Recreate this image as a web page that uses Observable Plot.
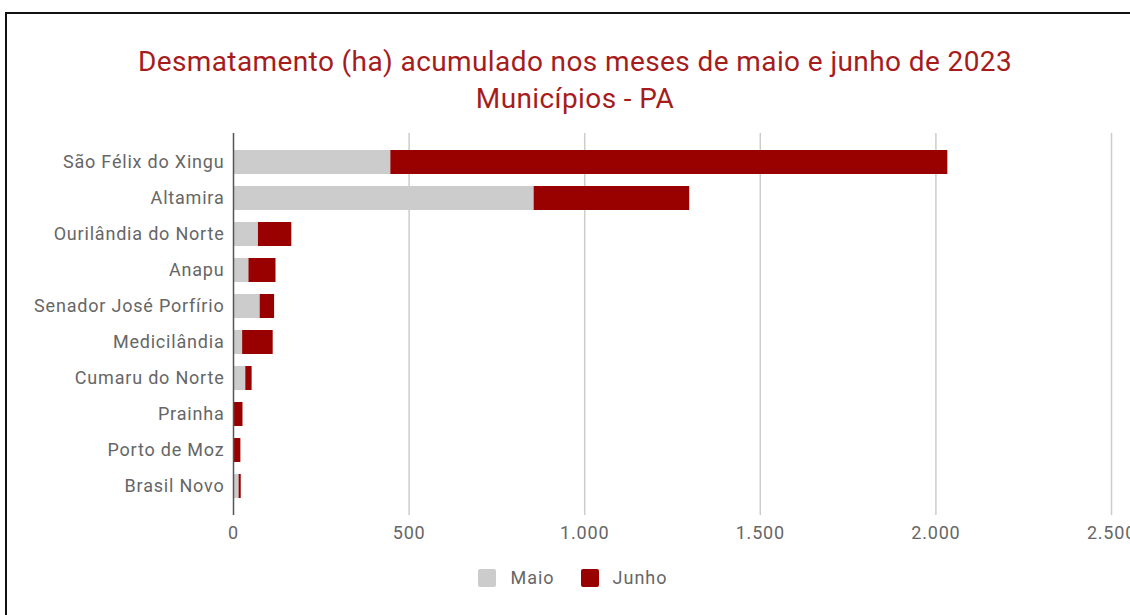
<!DOCTYPE html>
<html>
<head>
<meta charset="utf-8">
<script src="https://cdn.jsdelivr.net/npm/d3@7"></script>
<script src="https://cdn.jsdelivr.net/npm/@observablehq/plot@0.6"></script>
<style>
  html, body { margin: 0; padding: 0; background: #fff; }
  body { width: 1130px; height: 615px; overflow: hidden; position: relative; font-family: Roboto, sans-serif; }
  #frame { position: absolute; left: 5px; top: 12px; width: 1200px; height: 700px; border: 2px solid #111; box-sizing: border-box; }
  #title { position: absolute; left: 0; width: 1150px; top: 43px; text-align: center; color: #a61c1c; font-size: 28px; letter-spacing: 0.4px; line-height: 37px; }
  #chart { position: absolute; left: 0; top: 118px; }
  #legend { position: absolute; top: 567px; left: 0; width: 1146px; display: flex; justify-content: center; align-items: center; font-size: 18px; letter-spacing: 1px; color: #666; }
  .sw { width: 18px; height: 18px; border-radius: 2px; display: inline-block; margin-right: 14px; }
  .item { display: flex; align-items: center; margin: 0 13px; }
  #chart svg text { letter-spacing: 0.8px; }
</style>
</head>
<body>
<div id="frame"></div>
<div id="title">Desmatamento (ha) acumulado nos meses de maio e junho de 2023<br>Municípios - PA</div>
<div id="chart"></div>
<div id="legend"></div>
<script>
const municipios = ["São Félix do Xingu", "Altamira", "Ourilândia do Norte", "Anapu", "Senador José Porfírio", "Medicilândia", "Cumaru do Norte", "Prainha", "Porto de Moz", "Brasil Novo"];
const maio  = [448, 856, 71, 44, 76, 26, 35, 2, 1, 16];
const junho = [1586, 443, 95, 77, 41, 87, 18, 25, 20, 6];
const series = ["Maio", "Junho"];
const colors = ["#cccccc", "#990000"];
const xTicks = [0, 500, 1000, 1500, 2000, 2500];

const data = [];
municipios.forEach((m, i) => {
  data.push({municipio: m, mes: "Maio", valor: maio[i]});
  data.push({municipio: m, mes: "Junho", valor: junho[i]});
});

const fmt = d => d3.format(",")(d).replace(/,/g, ".");

const plot = Plot.plot({
  width: 1130,
  height: 440,
  marginLeft: 233,
  marginRight: 19,
  marginTop: 15,
  marginBottom: 43,
  style: {fontFamily: "Roboto, sans-serif", fontSize: "18px", color: "#666", background: "transparent"},
  x: {domain: [0, 2500], ticks: xTicks, tickFormat: fmt, label: null, tickSize: 0, tickPadding: 11},
  y: {domain: municipios, paddingInner: 0.34, paddingOuter: 0.41, label: null, tickSize: 0, tickPadding: 9},
  color: {domain: series, range: colors},
  marks: [
    Plot.gridX(xTicks.filter(d => d > 0), {stroke: "#cccccc", strokeOpacity: 1, strokeWidth: 1.5}),
    Plot.barX(data, Plot.stackX({x: "valor", y: "municipio", fill: "mes", order: series})),
    Plot.ruleX([0], {stroke: "#555", strokeWidth: 1.5}),
    Plot.axisX({ticks: xTicks, tickFormat: fmt, tickSize: 0, tickPadding: 11, label: null, fill: "#666", fontSize: 18}),
    Plot.axisY({tickSize: 0, tickPadding: 9, label: null, fill: "#666", fontSize: 18})
  ]
});
document.getElementById("chart").appendChild(plot);

const legend = document.getElementById("legend");
series.forEach((s, i) => {
  const it = document.createElement("div");
  it.className = "item";
  it.innerHTML = `<span class="sw" style="background:${colors[i]}"></span><span>${s}</span>`;
  legend.appendChild(it);
});
</script>
</body>
</html>
